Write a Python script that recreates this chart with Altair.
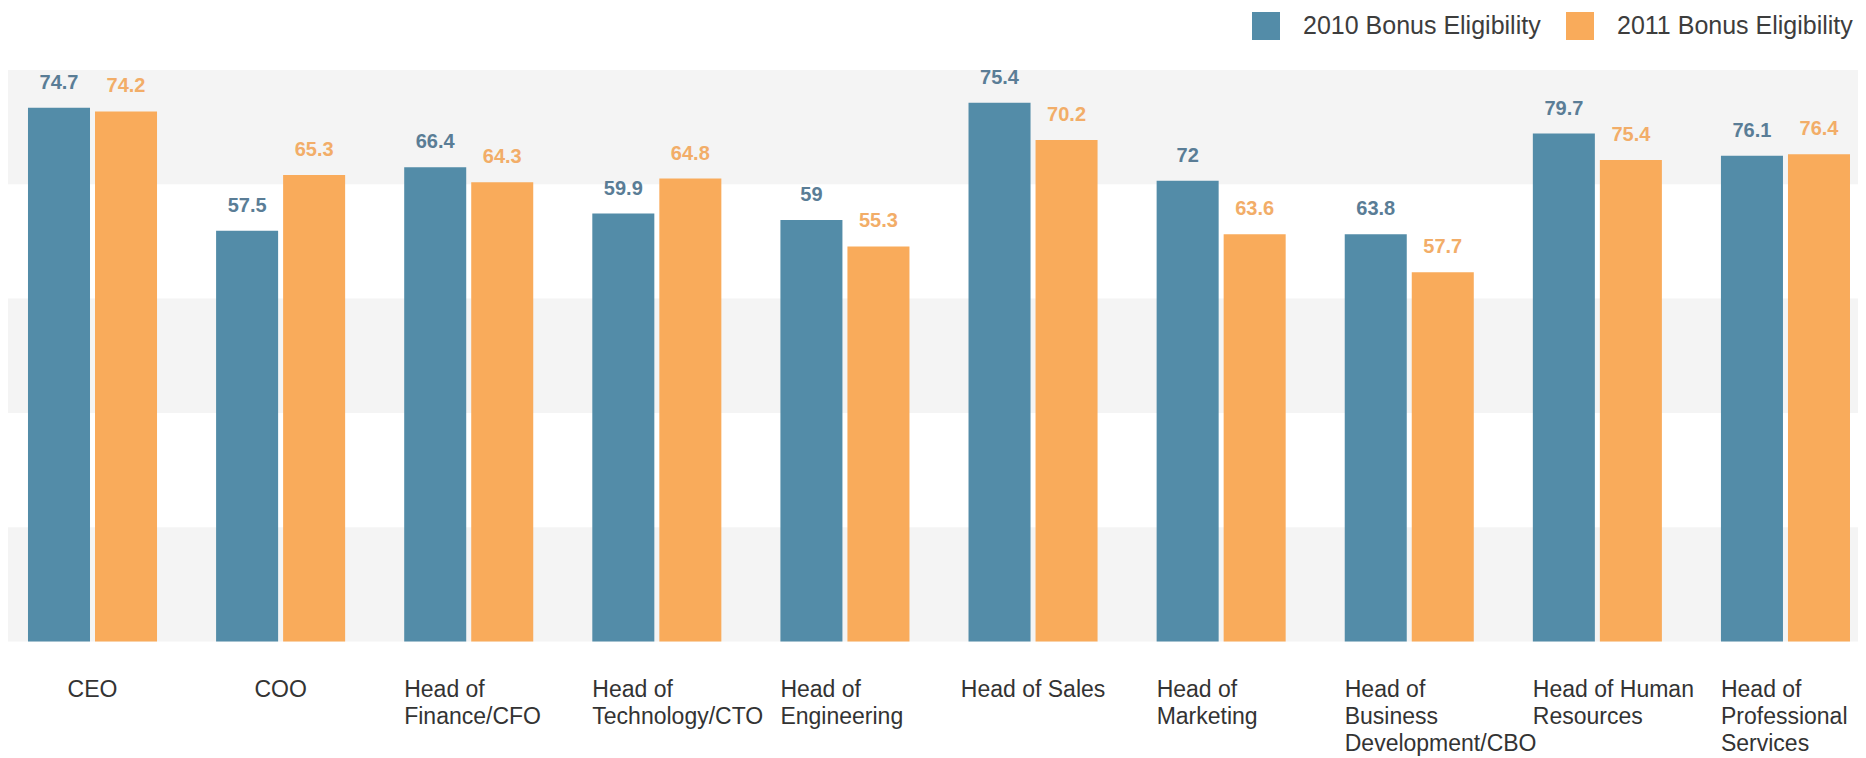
import altair as alt
import pandas as pd

# ---- data ----
categories = [
    "CEO",
    "COO",
    "Head of\nFinance/CFO",
    "Head of\nTechnology/CTO",
    "Head of\nEngineering",
    "Head of Sales",
    "Head of\nMarketing",
    "Head of\nBusiness\nDevelopment/CBO",
    "Head of Human\nResources",
    "Head of\nProfessional\nServices",
]
series = ["2010 Bonus Eligibility", "2011 Bonus Eligibility"]

# bar heights as drawn
bar_2010 = [74.7, 57.5, 66.4, 59.9, 59.0, 75.4, 64.5, 57.0, 71.1, 68.0]
bar_2011 = [74.2, 65.3, 64.3, 64.8, 55.3, 70.2, 57.0, 51.7, 67.4, 68.2]
# value labels as printed
label_2010 = ["74.7", "57.5", "66.4", "59.9", "59", "75.4", "72", "63.8", "79.7", "76.1"]
label_2011 = ["74.2", "65.3", "64.3", "64.8", "55.3", "70.2", "63.6", "57.7", "75.4", "76.4"]

band_starts = [0, 32, 64]
band_ends = [16, 48, 80]

rows = []
for i, c in enumerate(categories):
    rows.append({"cat": c, "series": series[0], "value": bar_2010[i], "label": label_2010[i]})
    rows.append({"cat": c, "series": series[1], "value": bar_2011[i], "label": label_2011[i]})
df = pd.DataFrame(rows)
bands = pd.DataFrame({"start": band_starts, "end": band_ends})
cats = pd.DataFrame({"cat": categories})

W = 1850
H = 571.5
FONT = "Liberation Sans, Arial, sans-serif"

xscale = alt.Scale(domain=categories, paddingInner=0.314, paddingOuter=0.0744, align=0.714)
yscale = alt.Scale(domain=[0, 80], nice=False, zero=True)
xoff = alt.XOffset("series:N", sort=series, scale=alt.Scale(domain=series, paddingInner=0.0746, paddingOuter=0))

bg = alt.Chart(bands).mark_rect(color="#f4f4f4").encode(
    y=alt.Y("start:Q", scale=yscale, axis=None),
    y2="end:Q",
    x=alt.value(0),
    x2=alt.value(W),
)

bars = alt.Chart(df).mark_bar().encode(
    x=alt.X("cat:N", sort=categories, scale=xscale, axis=None),
    xOffset=xoff,
    y=alt.Y("value:Q", scale=yscale, axis=None),
    color=alt.Color(
        "series:N",
        sort=series,
        scale=alt.Scale(domain=series, range=["#538ca8", "#f9ab5b"]),
        legend=alt.Legend(
            title=None,
            orient="none",
            legendX=1244,
            legendY=-58,
            direction="horizontal",
            symbolType="square",
            symbolSize=784,
            symbolStrokeWidth=0,
            symbolOpacity=1,
            labelFontSize=25,
            labelFont=FONT,
            labelColor="#3d3d3d",
            labelOffset=23,
            columnPadding=25,
            padding=0,
            labelLimit=400,
        ),
    ),
)

value_labels = alt.Chart(df).mark_text(
    fontSize=20, fontWeight="bold", font=FONT, baseline="alphabetic", dy=-19
).encode(
    x=alt.X("cat:N", sort=categories, scale=xscale, axis=None),
    xOffset=xoff,
    y=alt.Y("value:Q", scale=yscale, axis=None),
    text="label:N",
    color=alt.condition(alt.datum.series == series[0], alt.value("#5a7d96"), alt.value("#f2ad68")),
)

single = alt.Chart(cats).transform_filter("indexof(datum.cat, '\\n') < 0").mark_text(
    fontSize=23, font=FONT, color="#333333", align="center", baseline="alphabetic", lineBreak="\n", lineHeight=27
).encode(
    x=alt.X("cat:N", sort=categories, scale=xscale, axis=None),
    y=alt.value(H + 55),
    text="cat:N",
)

multi = alt.Chart(cats).transform_filter("indexof(datum.cat, '\\n') >= 0").mark_text(
    fontSize=23, font=FONT, color="#333333", align="left", baseline="alphabetic", lineBreak="\n", lineHeight=27
).encode(
    x=alt.X("cat:N", sort=categories, scale=xscale, axis=None, bandPosition=0),
    y=alt.value(H + 55),
    text="cat:N",
)

chart = alt.layer(bg, bars, value_labels, single, multi).properties(
    width=W,
    height=H,
    padding={"left": 0, "top": 62, "right": 0, "bottom": 115},
    autosize=alt.AutoSizeParams(type="none"),
    background="white",
).configure_view(stroke=None)

chart.save("out.html", embed_options={"renderer": "svg", "actions": False})
